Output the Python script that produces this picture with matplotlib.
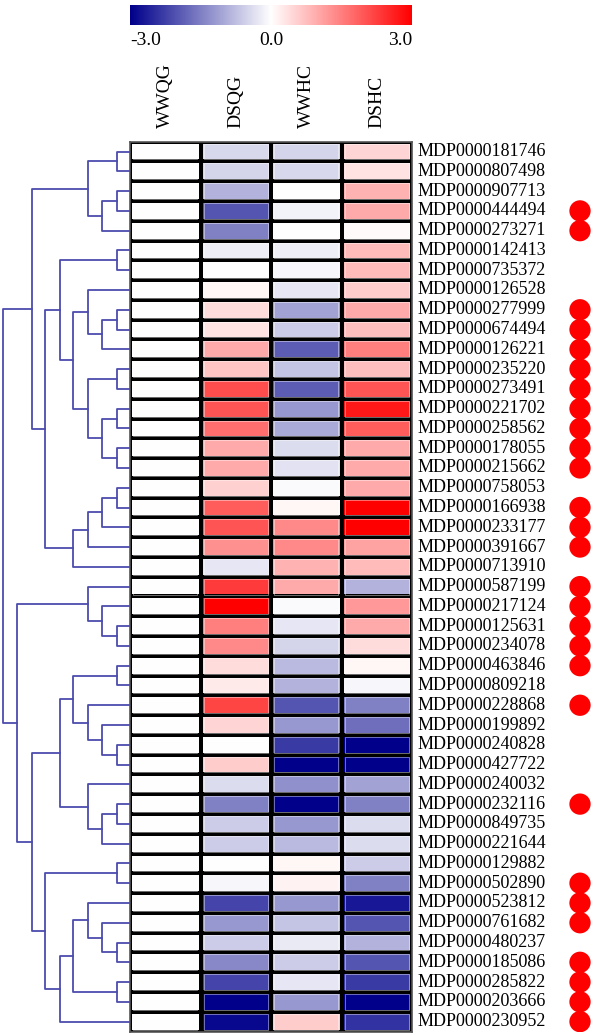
import numpy as np
import matplotlib
matplotlib.use("Agg")
from matplotlib import pyplot as plt
from matplotlib.colors import LinearSegmentedColormap

plt.rcParams['font.family'] = ['Liberation Serif', 'DejaVu Serif']

genes = ['MDP0000181746', 'MDP0000807498', 'MDP0000907713', 'MDP0000444494', 'MDP0000273271',
         'MDP0000142413', 'MDP0000735372', 'MDP0000126528', 'MDP0000277999', 'MDP0000674494',
         'MDP0000126221', 'MDP0000235220', 'MDP0000273491', 'MDP0000221702', 'MDP0000258562',
         'MDP0000178055', 'MDP0000215662', 'MDP0000758053', 'MDP0000166938', 'MDP0000233177',
         'MDP0000391667', 'MDP0000713910', 'MDP0000587199', 'MDP0000217124', 'MDP0000125631',
         'MDP0000234078', 'MDP0000463846', 'MDP0000809218', 'MDP0000228868', 'MDP0000199892',
         'MDP0000240828', 'MDP0000427722', 'MDP0000240032', 'MDP0000232116', 'MDP0000849735',
         'MDP0000221644', 'MDP0000129882', 'MDP0000502890', 'MDP0000523812', 'MDP0000761682',
         'MDP0000480237', 'MDP0000185086', 'MDP0000285822', 'MDP0000203666', 'MDP0000230952']
samples = ['WWQG', 'DSQG', 'WWHC', 'DSHC']

wwqg = [0.0] * 45
dsqg = [-0.45, -0.5, -0.9, -2.0, -1.5, -0.2, 0.0, 0.1, 0.4, 0.35,
        1.0, 0.7, 2.1, 2.0, 1.7, 1.0, 1.0, 0.55, 1.9, 2.0,
        1.3, -0.3, 2.3, 3.0, 1.5, 1.4, 0.4, 0.25, 2.2, 0.5,
        0.0, 0.6, -0.4, -1.5, -0.6, -0.6, 0.0, -0.1, -2.2, -1.2,
        -0.6, -1.4, -2.2, -3.0, -2.9]
wwhc = [-0.5, -0.45, 0.0, -0.15, 0.0, -0.2, -0.1, -0.3, -1.1, -0.6,
        -1.9, -0.7, -1.9, -1.2, -1.0, -0.4, -0.35, -0.05, 0.1, 1.4,
        1.4, 0.9, 1.0, -0.05, -0.3, -0.5, -0.8, -0.9, -2.0, -1.2,
        -2.3, -3.0, -1.3, -3.0, -1.2, -0.8, 0.1, 0.15, -1.2, -0.7,
        -0.25, -0.6, -0.3, -1.2, 0.6]
dshc = [0.5, 0.35, 0.9, 1.0, 0.05, 0.8, 0.8, 0.6, 1.0, 0.75,
        1.5, 0.75, 2.0, 2.7, 1.9, 1.0, 1.0, 1.0, 3.0, 3.0,
        1.1, 0.8, -0.9, 1.2, 1.0, 0.4, 0.1, -0.1, -1.5, -1.7,
        -3.0, -3.0, -1.1, -1.5, -0.4, -0.4, -0.6, -1.5, -2.7, -2.0,
        -0.9, -2.0, -2.3, -3.0, -2.4]

# rows (1-based) marked with a red dot
marked = [4, 5, 9, 10, 11, 12, 13, 14, 15, 16, 17, 19, 20, 21, 23, 24, 25, 26, 27,
          29, 34, 38, 39, 40, 42, 43, 44, 45]

# dendrogram: [merge height, left, right], leaves are 1-based rows
clA = [42, [13, 1, 2], [28, [13, 3, 4], 5]]
clB = [70, [13, 6, 7], [57, [42, 8, [28, [13, 9, 10], 11]],
                        [42, [13, 12, 13], [28, [13, 14, 15], [13, 16, 17]]]]]
clC = [57, [42, [28, [13, 18, 19], 20], 21], 22]
clD = [42, 23, [28, 24, [13, 25, 26]]]
clE = [57, [13, 27, 28], [42, 29, [28, 30, [13, 31, 32]]]]
clF = [42, 33, [28, [13, 34, 35], 36]]
clG = [85, [13, 37, 38], [70, [57, [42, 39, [28, 40, [13, 41, 42]]], [13, 43, 44]], 45]]
tree = [127, [98, clA, [85, clB, clC]], [113, clD, [98, [70, clE, clF], clG]]]

W, H = 596, 1035
fig = plt.figure(figsize=(W / 100, H / 100), dpi=100)

def frac(x0, y0, x1, y1):
    return [x0 / W, 1 - y1 / H, (x1 - x0) / W, (y1 - y0) / H]

cmap = LinearSegmentedColormap.from_list('bwr2', ['#00008b', '#ffffff', '#ff0000'])
n = len(genes)
top, bottom = 141.7, 1031.5

# heatmap
ax = fig.add_axes(frac(130, top, 412, bottom))
vals = np.array([wwqg, dsqg, wwhc, dshc]).T
ax.pcolormesh(vals, cmap=cmap, vmin=-3, vmax=3, edgecolors='black', linewidth=1.7)
for i in range(n):
    for j in range(4):
        ax.add_patch(plt.Rectangle((j + 0.045, i + 0.1), 0.91, 0.8, fill=False,
                                   edgecolor='white', linewidth=0.5, alpha=0.6))
ax.set_xlim(0, 4)
ax.set_ylim(n, 0)
ax.set_xticks([])
ax.set_yticks([])
for s in ax.spines.values():
    s.set_color('#555555')
    s.set_linewidth(1.2)
for i, g in enumerate(genes):
    ax.text(4.085, i + 0.5, g, ha='left', va='center', fontsize=13)
for j, s in enumerate(samples):
    ax.text(j + 0.5, -0.7, s, rotation=90, ha='center', va='bottom', fontsize=14)

# red dots
axd = fig.add_axes(frac(565, top, 595, bottom))
axd.scatter([0.5] * len(marked), [m - 0.5 for m in marked], s=235, color='#ff0000',
            edgecolors='none')
axd.set_xlim(0, 1)
axd.set_ylim(n, 0)
axd.axis('off')

# dendrogram
axt = fig.add_axes(frac(0, top, 130, bottom))

def draw(node):
    if isinstance(node, int):
        return node - 0.5, 0
    h, left, right = node
    yl, hl = draw(left)
    yr, hr = draw(right)
    axt.plot([hl, h, h, hr], [yl, yl, yr, yr], color='#4c4cae', linewidth=1.3)
    return (yl + yr) / 2, h

draw(tree)
axt.set_xlim(130, 0)
axt.set_ylim(n, 0)
axt.axis('off')

# colorbar
axc = fig.add_axes(frac(130, 5, 412, 25))
grad = np.linspace(-3, 3, 256).reshape(1, -1)
axc.imshow(grad, aspect='auto', cmap=cmap, vmin=-3, vmax=3, extent=[-3, 3, 0, 1])
axc.set_xticks([])
axc.set_yticks([])
for s in axc.spines.values():
    s.set_visible(False)
axc.text(-3, -0.35, '-3.0', ha='left', va='top', fontsize=14)
axc.text(0, -0.35, '0.0', ha='center', va='top', fontsize=14)
axc.text(3, -0.35, '3.0', ha='right', va='top', fontsize=14)

fig.savefig('out.png', dpi=100)
